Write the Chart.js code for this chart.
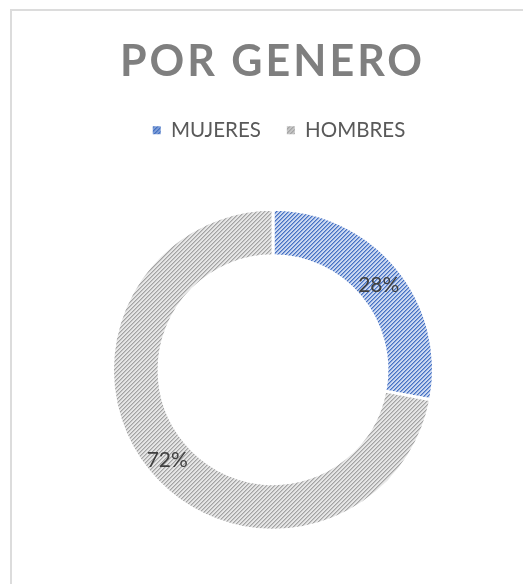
<!DOCTYPE html>
<html>
<head>
<meta charset="utf-8">
<script src="https://cdn.jsdelivr.net/npm/chart.js@4/dist/chart.umd.min.js"></script>
<style>
  html, body { margin: 0; padding: 0; background: #fff; overflow: hidden; }
  #frame { position: absolute; left: 10px; top: 9px; width: 600px; height: 700px; border: 2px solid #dcdcdc; box-sizing: border-box; }
  #wrap { position: absolute; left: 0; top: 0; width: 523px; height: 589px; }
</style>
</head>
<body>
<div id="frame"></div>
<div id="wrap"><canvas id="c" width="523" height="589"></canvas></div>
<script>
const chartTitle = 'POR GENERO';
const categories = ['MUJERES', 'HOMBRES'];
const percentValues = [28, 72];

function makePattern(dark, mid, light) {
  const t = document.createElement('canvas');
  t.width = 4; t.height = 4;
  const g = t.getContext('2d');
  for (let x = 0; x < 4; x++) {
    for (let y = 0; y < 4; y++) {
      const k = (x + y) % 4;
      g.fillStyle = k === 3 ? dark : (k === 0 ? mid : light);
      g.fillRect(x, y, 1, 1);
    }
  }
  return g.createPattern(t, 'repeat');
}
const blueFill = makePattern('#4472c4', '#89a3d9', '#cbd8f1');
const grayFill = makePattern('#a3a3a3', '#c6c6c6', '#e6e6e6');
const legendFills = [makePattern('#4472c4', '#5f86cc', '#7d9cd6'), makePattern('#a5a5a5', '#b3b3b3', '#c4c4c4')];

const titlePlugin = {
  id: 'spacedTitle',
  afterLayout(chart) {
    if (chart.legend) { chart.legend.left += 6; chart.legend.right += 6; }
  },
  afterDraw(chart) {
    const ctx = chart.ctx;
    ctx.save();
    ctx.font = 'bold 43px Lato';
    ctx.fillStyle = '#7f7f7f';
    ctx.textAlign = 'center';
    ctx.textBaseline = 'alphabetic';
    const sp = 3;
    ctx.letterSpacing = sp + 'px';
    ctx.fillText(chartTitle, 271 + sp / 2, 76);
    ctx.restore();
  }
};

const labelPlugin = {
  id: 'pctLabels',
  afterDatasetsDraw(chart) {
    const ctx = chart.ctx;
    const meta = chart.getDatasetMeta(0);
    ctx.save();
    ctx.font = '21px Lato';
    ctx.fillStyle = '#404040';
    ctx.textAlign = 'center';
    ctx.textBaseline = 'middle';
    meta.data.forEach((arc, i) => {
      const p = arc.tooltipPosition();
      ctx.fillText(percentValues[i] + '%', p.x, p.y + 3);
    });
    ctx.restore();
  }
};

new Chart(document.getElementById('c'), {
  type: 'doughnut',
  data: {
    labels: categories,
    datasets: [{
      data: percentValues,
      backgroundColor: [blueFill, grayFill],
      borderColor: '#ffffff',
      borderWidth: 3,
      hoverOffset: 0
    }]
  },
  options: {
    responsive: false,
    animation: false,
    cutout: '71%',
    layout: { padding: { left: 111, right: 88, top: 94, bottom: 0 } },
    plugins: {
      title: { display: false },
      tooltip: { enabled: false },
      legend: {
        position: 'top',
        labels: {
          boxWidth: 8,
          boxHeight: 8,
          padding: 26,
          color: '#595959',
          font: { family: 'Lato', size: 20.5 },
          generateLabels(chart) {
            const items = Chart.overrides.doughnut.plugins.legend.labels.generateLabels(chart);
            items.forEach((it, i) => { it.lineWidth = 0; it.strokeStyle = 'rgba(0,0,0,0)'; it.fillStyle = legendFills[i]; });
            return items;
          }
        }
      }
    }
  },
  plugins: [titlePlugin, labelPlugin]
});
</script>
</body>
</html>
